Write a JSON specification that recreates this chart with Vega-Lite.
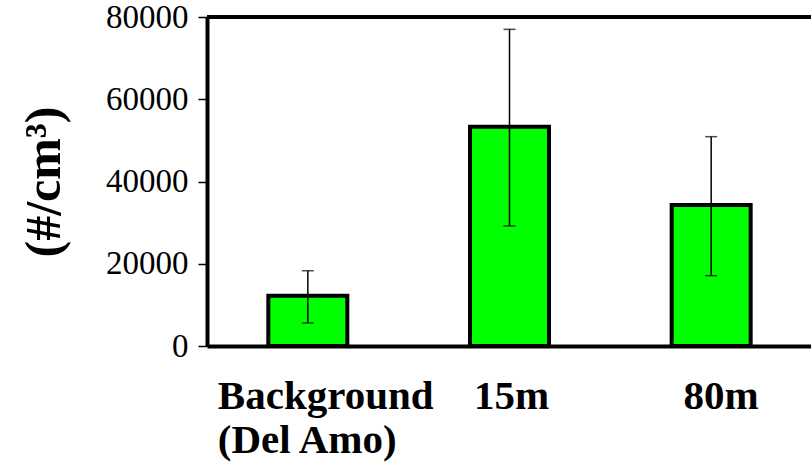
{
  "$schema": "https://vega.github.io/schema/vega-lite/v6.json",
  "width": 605,
  "height": 329,
  "autosize": {"type": "none"},
  "padding": {"left": 207, "top": 17, "right": 0, "bottom": 121},
  "background": "white",
  "config": {
    "view": {"stroke": null},
    "font": "Liberation Serif"
  },
  "data": {
    "values": [
      {"site": "Background", "mean": 12200, "lo": 5600, "hi": 18300},
      {"site": "15m", "mean": 53300, "lo": 29200, "hi": 77000},
      {"site": "80m", "mean": 34300, "lo": 17100, "hi": 50900}
    ]
  },
  "layer": [
    {
      "mark": {"type": "bar", "fill": "#00ff00", "stroke": "black", "strokeWidth": 4, "size": 79},
      "encoding": {
        "x": {
          "field": "site",
          "type": "nominal",
          "sort": null,
          "scale": {"paddingInner": 0.6, "paddingOuter": 0.3},
          "axis": {
            "title": null,
            "labelAngle": 0,
            "labelFont": "Liberation Serif",
            "labelFontWeight": "bold",
            "labelFontSize": 41,
            "labelColor": "black",
            "labelBaseline": "top",
            "labelPadding": 30,
            "labelLineHeight": 44,
            "labelLimit": 0,
            "labelOverlap": false,
            "labelFlush": false,
            "labelAlign": {"condition": {"test": "datum.value == 'Background'", "value": "left"}, "value": "center"},
            "labelOffset": {"condition": [{"test": "datum.value == 'Background'", "value": -90}, {"test": "datum.value == '15m'", "value": 2}], "value": 10},
            "labelExpr": "datum.value == 'Background' ? ['Background', '(Del Amo)'] : datum.value",
            "ticks": false,
            "domainColor": "black",
            "domainWidth": 4
          }
        },
        "y": {
          "field": "mean",
          "type": "quantitative",
          "scale": {"domain": [0, 80000], "nice": false},
          "axis": {
            "title": "(#/cm³)",
            "titleFont": "Liberation Serif",
            "titleFontWeight": "bold",
            "titleFontSize": 50,
            "titleColor": "black",
            "titlePadding": 36,
            "values": [0, 20000, 40000, 60000, 80000],
            "format": "d",
            "grid": false,
            "labelFont": "Liberation Serif",
            "labelFontSize": 33,
            "labelColor": "black",
            "labelPadding": 10,
            "tickSize": 9,
            "tickColor": "black",
            "tickWidth": 1.5,
            "domainColor": "black",
            "domainWidth": 4
          }
        }
      }
    },
    {
      "mark": {"type": "rule", "color": "black", "strokeWidth": 1.5},
      "encoding": {
        "x": {"field": "site", "type": "nominal", "sort": null},
        "y": {"field": "lo", "type": "quantitative"},
        "y2": {"field": "hi"}
      }
    },
    {
      "mark": {"type": "tick", "color": "black", "thickness": 1.5, "size": 12},
      "encoding": {
        "x": {"field": "site", "type": "nominal", "sort": null},
        "y": {"field": "lo", "type": "quantitative"}
      }
    },
    {
      "mark": {"type": "tick", "color": "black", "thickness": 1.5, "size": 12},
      "encoding": {
        "x": {"field": "site", "type": "nominal", "sort": null},
        "y": {"field": "hi", "type": "quantitative"}
      }
    },
    {
      "mark": {"type": "rule", "color": "black", "strokeWidth": 4},
      "encoding": {"y": {"datum": 80000}}
    }
  ]
}
